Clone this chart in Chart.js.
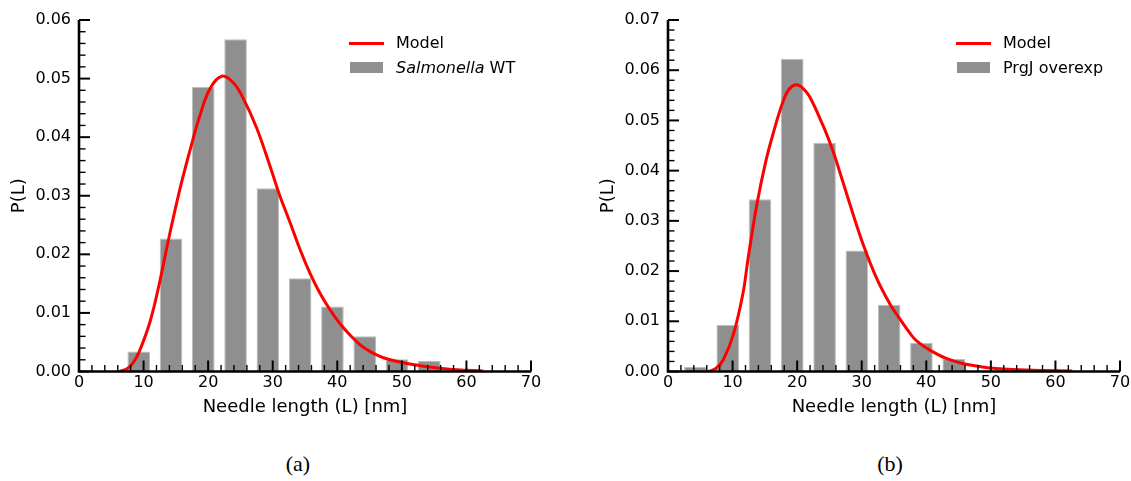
<!DOCTYPE html>
<html>
<head>
<meta charset="utf-8">
<script src="https://cdn.jsdelivr.net/npm/chart.js@4.4.1/dist/chart.umd.min.js"></script>
<style>
  html, body { margin: 0; padding: 0; background: #fff; overflow: hidden; }
  #page { position: relative; width: 1131px; height: 481px; overflow: hidden; background: #fff; }
  .panel { position: absolute; top: 0; width: 560px; height: 425px; }
  .legend { position: absolute; font: 16px "DejaVu Sans", sans-serif; color: #000; }
  .legend .row { position: absolute; left: 0; white-space: nowrap; height: 20px; line-height: 20px; }
  .legend .line { position: absolute; left: 0; top: 8.5px; width: 35px; height: 3px; background: #ff0000; }
  .legend .box { position: absolute; left: 1px; top: 4.5px; width: 33px; height: 11px; background: #8f8f8f; }
  .legend .lbl { position: absolute; left: 47px; top: 0; }
  .caption { position: absolute; top: 451px; width: 60px; margin-left: -30px; text-align: center;
    font: 22px "Liberation Serif", serif; color: #000; }
</style>
</head>
<body>
<div id="page">
  <div class="panel" style="left:0"><canvas id="chartA" width="560" height="425"></canvas></div>
  <div class="panel" style="left:589px"><canvas id="chartB" width="560" height="425"></canvas></div>

  <div class="legend" style="left:349px; top:33px">
    <div class="row" style="top:0"><span class="line"></span><span class="lbl">Model</span></div>
    <div class="row" style="top:24.5px"><span class="box"></span><span class="lbl"><i>Salmonella</i> WT</span></div>
  </div>
  <div class="legend" style="left:956px; top:33px">
    <div class="row" style="top:0"><span class="line"></span><span class="lbl">Model</span></div>
    <div class="row" style="top:24.5px"><span class="box"></span><span class="lbl">PrgJ overexp</span></div>
  </div>

  <div class="caption" style="left:298px">(a)</div>
  <div class="caption" style="left:890px">(b)</div>
</div>
<script>
// histogram bins (bar centres, nm) and probabilities
const binsA = [9.25, 14.25, 19.25, 24.25, 29.25, 34.25, 39.25, 44.25, 49.25, 54.25];
const probA = [0.0034, 0.0227, 0.0486, 0.0567, 0.0313, 0.0159, 0.0111, 0.0060, 0.0021, 0.0018];

const binsB = [4.25, 9.25, 14.25, 19.25, 24.25, 29.25, 34.25, 39.25, 44.25];
const probB = [0.0009, 0.0093, 0.0343, 0.0623, 0.0455, 0.0241, 0.0133, 0.0057, 0.0025];

// model curves
const modelAx = [6.3, 7.5, 8.4, 9.3, 11.0, 12.5, 13.8, 15.6, 17.2, 18.7, 20.3, 22.1, 23.9, 25.4, 27.5,
  29.6, 31.1, 32.7, 34.2, 35.8, 37.3, 38.9, 40.4, 42.0, 43.5, 45.1, 46.6, 48.2, 50.2, 52.3, 53.3, 55.9, 58.5, 62.6];
const modelAy = [0, 0.0005, 0.0015, 0.0033, 0.0085, 0.0153, 0.0222, 0.0310, 0.0378, 0.0436, 0.0483, 0.0504, 0.0493, 0.0467, 0.0416,
  0.0350, 0.0300, 0.0254, 0.0209, 0.0167, 0.0134, 0.0105, 0.0082, 0.0062, 0.0046, 0.0034, 0.0026, 0.0020, 0.0015, 0.0011, 0.0009, 0.00055, 0.0003, 0.0001];

const modelBx = [6.2, 7.4, 8.55, 10.1, 11.6, 12.4, 13.8, 15.1, 16.2, 17.8, 18.8, 19.9, 20.9, 21.9, 24.0, 25.3, 26.1,
  28.1, 30.2, 32.3, 34.3, 35.3, 37.9, 39.0, 40.5, 43.1, 45.6, 48.2, 50.8, 53.4, 58.5, 62.6];
const modelBy = [0, 0.0006, 0.0023, 0.0073, 0.0155, 0.0225, 0.0335, 0.0416, 0.0470, 0.0537, 0.0563, 0.0571, 0.0564, 0.0548, 0.0490, 0.0448, 0.0418,
  0.0336, 0.0254, 0.0186, 0.0136, 0.0116, 0.0069, 0.0056, 0.0043, 0.0026, 0.0016, 0.0010, 0.0006, 0.0004, 0.0002, 0.0001];

const xTicks = { min: 0, max: 70, step: 10, minor: 2 };
const yTicksA = { min: 0, max: 0.06, step: 0.01, minor: 0.002 };
const yTicksB = { min: 0, max: 0.07, step: 0.01, minor: 0.002 };

const FONT = "DejaVu Sans";
const BAR = "#8f8f8f";

// spines + inward major/minor ticks, matplotlib style
const axesPlugin = {
  id: "inwardAxes",
  afterDatasetsDraw(chart, args, opts) {
    const { ctx, chartArea: ca, scales } = chart;
    const sx = scales.x, sy = scales.y;
    ctx.save();
    ctx.strokeStyle = "#000";
    ctx.lineCap = "butt";
    const tick = (x1, y1, x2, y2, w) => {
      ctx.lineWidth = w;
      ctx.beginPath(); ctx.moveTo(x1, y1); ctx.lineTo(x2, y2); ctx.stroke();
    };
    for (let v = xTicks.min; v <= xTicks.max + 1e-9; v += xTicks.minor) {
      const px = sx.getPixelForValue(v);
      const major = Math.abs(v / xTicks.step - Math.round(v / xTicks.step)) < 1e-6;
      tick(px, ca.bottom, px, ca.bottom - (major ? 11 : 6.5), major ? 2 : 1.4);
    }
    const yt = opts.y;
    for (let i = 0; i * yt.minor <= yt.max + 1e-9; i++) {
      const v = i * yt.minor;
      const py = sy.getPixelForValue(v);
      const major = i % 5 === 0;
      tick(ca.left, py, ca.left + (major ? 11 : 6.5), py, major ? 2 : 1.4);
    }
    ctx.lineWidth = 2.6;
    ctx.beginPath();
    ctx.moveTo(ca.left, ca.top);
    ctx.lineTo(ca.left, ca.bottom);
    ctx.lineTo(ca.right, ca.bottom);
    ctx.stroke();
    ctx.restore();
  }
};

function makeChart(id, bins, probs, mx, my, yt) {
  const bars = bins.map((x, i) => ({ x, y: probs[i] }));
  const curve = mx.map((x, i) => ({ x, y: my[i] }));
  return new Chart(document.getElementById(id), {
    type: "bar",
    data: {
      datasets: [
        { type: "line", data: curve, borderColor: "#ff0000", borderWidth: 3, pointRadius: 0,
          tension: 0.4, fill: false, order: 0 },
        { type: "bar", data: bars, backgroundColor: BAR, borderColor: "#bdbdbd", borderWidth: 1,
          barPercentage: 0.7, categoryPercentage: 1, order: 1 },
      ],
    },
    options: {
      responsive: false,
      animation: false,
      layout: { padding: { left: 0, top: 20, right: 29, bottom: 7 } },
      plugins: { legend: { display: false }, tooltip: { enabled: false }, inwardAxes: { y: yt } },
      scales: {
        x: {
          type: "linear", min: xTicks.min, max: xTicks.max, offset: false,
          grid: { display: false, drawTicks: false }, border: { display: false },
          ticks: { stepSize: xTicks.step, padding: 2, color: "#000", font: { family: FONT, size: 16 } },
          title: { display: true, text: "Needle length (L) [nm]", color: "#000",
            font: { family: FONT, size: 18 }, padding: 0 },
          afterFit(s) { s.height = 46.5; },
        },
        y: {
          type: "linear", min: yt.min, max: yt.max,
          grid: { display: false, drawTicks: false }, border: { display: false },
          ticks: { stepSize: yt.step, padding: 8, color: "#000", font: { family: FONT, size: 16 },
            callback: (v) => v.toFixed(2) },
          title: { display: true, text: "P(L)", color: "#000",
            font: { family: FONT, size: 18 }, padding: { top: 9, bottom: 0 } },
          afterFit(s) { s.width = 79; },
        },
      },
    },
    plugins: [axesPlugin],
  });
}

makeChart("chartA", binsA, probA, modelAx, modelAy, yTicksA);
makeChart("chartB", binsB, probB, modelBx, modelBy, yTicksB);
</script>
</body>
</html>
